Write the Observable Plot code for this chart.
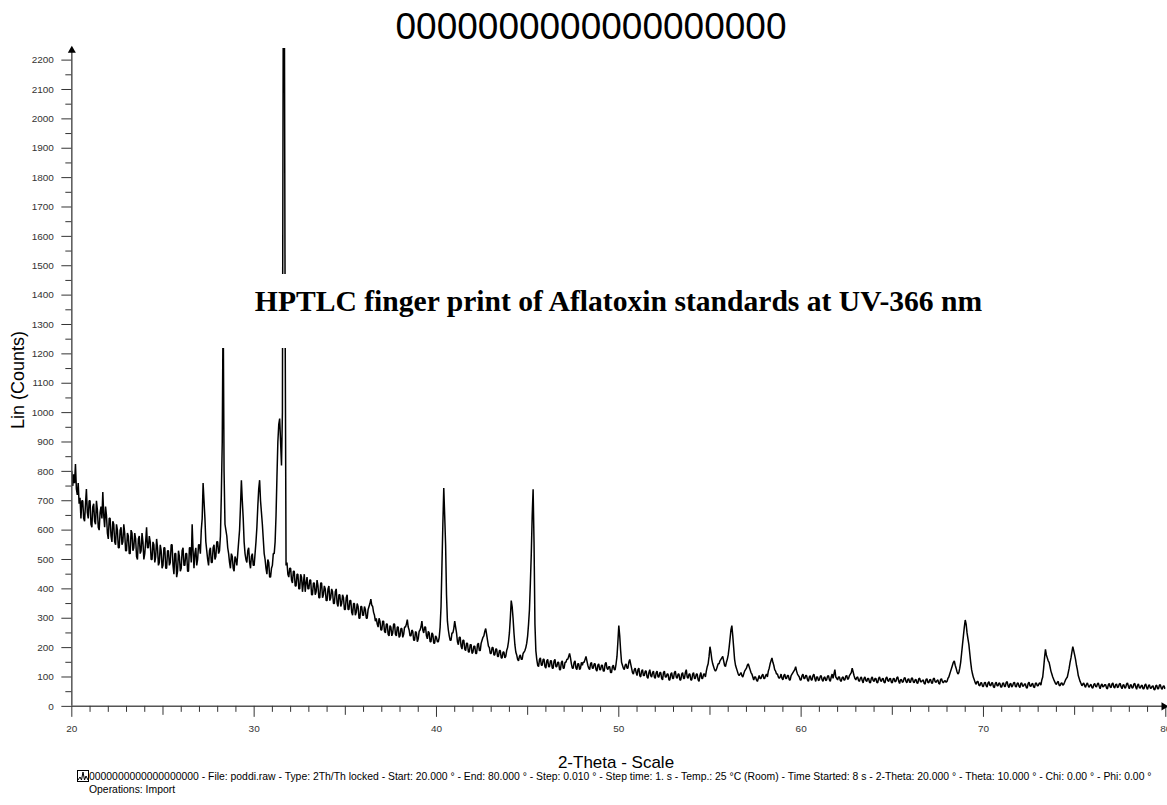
<!DOCTYPE html>
<html>
<head>
<meta charset="utf-8">
<script src="https://cdn.jsdelivr.net/npm/d3@7"></script>
<script src="https://cdn.jsdelivr.net/npm/@observablehq/plot@0.6"></script>
<style>
  html, body { margin: 0; padding: 0; background: #fff; overflow: hidden; }
  #wrap { position: relative; width: 1167px; height: 805px; overflow: hidden;
          font-family: Arial, "Liberation Sans", sans-serif; color: #000; }
  #chart { position: absolute; left: 0; top: 0; }
  .title { position: absolute; left: 0; width: 1182px; top: 6px; text-align: center;
           font-size: 37px; line-height: 42px; }
  .ylab { position: absolute; left: 18px; top: 380px; font-size: 18px; white-space: nowrap;
          transform: translate(-50%, -50%) rotate(-90deg); }
  .xlab { position: absolute; left: 616px; top: 752px; font-size: 17px; white-space: nowrap;
          transform: translateX(-50%); line-height: 22px; }
  .note { position: absolute; left: 205px; top: 274px; width: 827px; height: 74px; background: #fff; }
  .note span { position: absolute; left: 0; right: 0; top: 13px; text-align: center;
               font-family: "Liberation Serif", "Times New Roman", serif; font-weight: bold;
               font-size: 29.6px; line-height: 29px; white-space: nowrap; }
  .caption { position: absolute; left: 77px; top: 770px; font-size: 10.4px; line-height: 13px; white-space: nowrap; }
  .caption svg { position: absolute; left: 0; top: 0; }
  .caption div { padding-left: 12px; }
</style>
</head>
<body>
<div id="wrap">
  <div id="chart"></div>
  <div class="title">0000000000000000000</div>
  <div class="ylab">Lin (Counts)</div>
  <div class="xlab">2-Theta - Scale</div>
  <div class="note"><span>HPTLC finger print of Aflatoxin standards at UV-366 nm</span></div>
  <div class="caption">
    <svg width="12" height="12" viewBox="0 0 12 12">
      <rect x="0.5" y="0.5" width="11" height="11" fill="none" stroke="#000" stroke-width="1"/>
      <polyline points="1,10 3,7 4.5,10 6,2 7.5,10 9,6 11,10" fill="none" stroke="#000" stroke-width="1"/>
    </svg>
    <div>0000000000000000000 - File: poddi.raw - Type: 2Th/Th locked - Start: 20.000 ° - End: 80.000 ° - Step: 0.010 ° - Step time: 1. s - Temp.: 25 °C (Room) - Time Started: 8 s - 2-Theta: 20.000 ° - Theta: 10.000 ° - Chi: 0.00 ° - Phi: 0.00 °</div>
    <div>Operations: Import</div>
  </div>
</div>
<script>
// Diffraction scan: counts sampled every 0.05° of 2-theta, one row per degree.
const startAngle = 20;
const stepAngle = 0.05;
const counts = [
  800, 750, 790, 760, 825, 740, 720, 760, 690, 710, 640, 700, 700, 640, 630, 690, 740, 660, 640, 700, // 20
  700, 620, 610, 680, 690, 630, 620, 700, 670, 610, 600, 660, 680, 640, 730, 650, 610, 680, 650, 590, // 21
  570, 640, 640, 580, 560, 630, 620, 560, 550, 620, 600, 540, 540, 600, 610, 550, 560, 620, 590, 530, // 22
  530, 590, 580, 520, 520, 600, 590, 530, 540, 590, 570, 510, 500, 570, 580, 520, 530, 590, 560, 500, // 23
  520, 560, 610, 540, 540, 580, 560, 500, 500, 560, 550, 490, 510, 570, 540, 480, 490, 550, 530, 470, // 24
  480, 540, 540, 470, 470, 530, 530, 480, 490, 550, 550, 480, 450, 520, 520, 440, 460, 530, 510, 460, // 25
  470, 530, 540, 480, 480, 520, 520, 460, 460, 540, 540, 490, 620, 530, 470, 520, 540, 480, 500, 550, // 26
  550, 520, 600, 640, 760, 700, 640, 560, 530, 500, 480, 530, 540, 490, 490, 540, 550, 500, 510, 560, // 27
  560, 520, 530, 580, 720, 900, 1380, 800, 620, 600, 580, 540, 520, 490, 470, 520, 510, 470, 460, 510, // 28
  500, 480, 520, 560, 600, 680, 770, 700, 640, 560, 520, 500, 490, 530, 540, 490, 470, 510, 520, 480, // 29
  480, 520, 560, 610, 680, 740, 770, 700, 660, 620, 570, 520, 500, 470, 450, 500, 490, 440, 440, 470, // 30
  480, 520, 520, 560, 650, 780, 900, 960, 980, 900, 820, 1000, 2500, 2600, 1300, 480, 490, 450, 440, 470, // 31
  470, 430, 420, 460, 460, 410, 410, 450, 450, 400, 400, 450, 440, 390, 420, 450, 390, 420, 440, 400, // 32
  400, 430, 430, 380, 380, 420, 420, 380, 390, 430, 410, 370, 370, 420, 420, 370, 380, 410, 400, 360, // 33
  360, 400, 410, 360, 370, 400, 390, 350, 350, 390, 400, 350, 340, 380, 380, 340, 350, 380, 370, 330, // 34
  330, 370, 380, 330, 330, 360, 360, 320, 310, 350, 350, 310, 320, 350, 340, 300, 300, 340, 340, 310, // 35
  310, 340, 330, 300, 300, 330, 340, 350, 365, 345, 340, 320, 310, 290, 300, 280, 270, 300, 290, 260, // 36
  260, 290, 290, 255, 250, 280, 280, 245, 240, 275, 270, 240, 250, 280, 280, 245, 240, 270, 270, 235, // 37
  240, 265, 265, 235, 245, 270, 270, 280, 295, 270, 260, 240, 240, 260, 255, 225, 225, 255, 250, 220, // 38
  230, 255, 260, 270, 290, 260, 250, 270, 270, 240, 230, 255, 250, 220, 220, 250, 245, 215, 215, 240, // 39
  235, 220, 220, 235, 270, 340, 480, 620, 743, 650, 550, 380, 290, 260, 240, 225, 225, 250, 250, 265, // 40
  290, 270, 250, 220, 210, 235, 235, 205, 195, 225, 225, 195, 190, 215, 215, 185, 185, 210, 210, 180, // 41
  185, 205, 205, 180, 180, 210, 215, 190, 190, 215, 225, 235, 240, 255, 265, 245, 225, 205, 200, 180, // 42
  180, 200, 200, 175, 175, 195, 195, 170, 170, 190, 190, 165, 165, 185, 185, 165, 170, 190, 200, 220, // 43
  250, 300, 360, 340, 300, 250, 210, 185, 175, 160, 155, 170, 175, 160, 160, 180, 185, 190, 200, 215, // 44
  240, 280, 330, 420, 520, 650, 739, 560, 280, 190, 160, 140, 135, 160, 165, 140, 140, 160, 160, 135, // 45
  130, 155, 160, 135, 135, 155, 155, 130, 130, 155, 160, 135, 135, 150, 150, 125, 125, 150, 155, 130, // 46
  130, 150, 150, 160, 160, 170, 180, 165, 145, 130, 130, 150, 155, 130, 125, 145, 145, 125, 130, 150, // 47
  140, 150, 150, 160, 170, 155, 140, 130, 125, 145, 150, 130, 130, 145, 145, 125, 120, 140, 145, 125, // 48
  125, 140, 140, 120, 120, 145, 150, 130, 125, 135, 135, 115, 115, 135, 140, 125, 125, 145, 170, 220, // 49
  275, 240, 190, 150, 140, 130, 125, 140, 145, 130, 130, 150, 160, 145, 130, 115, 110, 125, 130, 115, // 50
  105, 125, 130, 105, 100, 120, 125, 105, 105, 120, 120, 100, 95, 115, 125, 105, 100, 115, 120, 100,  // 51
  95, 115, 120, 100, 100, 115, 115, 95, 90, 115, 120, 100, 100, 110, 110, 90, 90, 110, 115, 95,       // 52
  95, 115, 120, 100, 95, 110, 110, 90, 90, 110, 115, 95, 95, 115, 125, 100, 95, 110, 110, 90,         // 53
  90, 110, 115, 95, 95, 110, 110, 90, 85, 105, 115, 95, 95, 110, 110, 100, 120, 135, 145, 170,        // 54
  203, 185, 160, 145, 135, 125, 120, 125, 135, 145, 145, 155, 160, 165, 170, 155, 140, 135, 150, 160, // 55
  175, 200, 230, 260, 275, 240, 200, 160, 140, 130, 120, 110, 105, 110, 115, 105, 100, 110, 120, 125, // 56
  130, 140, 145, 135, 125, 115, 110, 100, 90, 100, 100, 90, 85, 95, 105, 95, 95, 105, 110, 95,        // 57
  95, 105, 110, 100, 120, 130, 145, 155, 165, 150, 140, 125, 120, 110, 110, 100, 95, 100, 110, 95,    // 58
  90, 105, 110, 95, 95, 105, 105, 90, 90, 105, 110, 115, 120, 125, 135, 120, 110, 105, 100, 90,       // 59
  90, 105, 110, 95, 95, 105, 105, 90, 85, 100, 105, 90, 90, 105, 110, 95, 85, 100, 100, 88,           // 60
  90, 102, 105, 90, 85, 98, 100, 88, 90, 103, 105, 90, 85, 100, 110, 95, 110, 125, 100, 95,           // 61
  90, 100, 100, 88, 85, 98, 100, 90, 90, 103, 105, 92, 95, 105, 110, 115, 130, 118, 105, 95,          // 62
  90, 98, 100, 88, 85, 96, 100, 88, 80, 95, 100, 88, 85, 95, 95, 82, 80, 95, 100, 88,                 // 63
  85, 95, 95, 82, 80, 95, 100, 88, 85, 94, 95, 82, 80, 96, 100, 88, 85, 94, 95, 82,                   // 64
  80, 94, 95, 84, 85, 98, 100, 86, 78, 90, 92, 82, 84, 96, 98, 85, 80, 92, 94, 82,                    // 65
  82, 95, 97, 84, 80, 90, 92, 80, 78, 94, 96, 84, 84, 88, 90, 78, 76, 92, 94, 82,                     // 66
  80, 90, 92, 80, 78, 94, 96, 84, 82, 88, 90, 78, 76, 92, 94, 84, 80, 86, 88, 82,                     // 67
  85, 95, 100, 110, 120, 130, 140, 150, 155, 140, 130, 118, 110, 115, 130, 150, 180, 210, 240, 270,   // 68
  294, 280, 250, 230, 210, 180, 150, 125, 110, 98, 90, 80, 75, 85, 85, 72, 70, 80, 80, 68,            // 69
  68, 80, 82, 70, 66, 80, 84, 72, 70, 80, 80, 66, 64, 78, 82, 70, 70, 80, 78, 66,                     // 70
  66, 78, 80, 68, 68, 82, 84, 70, 64, 76, 78, 66, 70, 80, 82, 68, 66, 78, 80, 68,                     // 71
  64, 78, 80, 68, 70, 76, 76, 64, 62, 78, 82, 70, 68, 76, 78, 66, 64, 78, 80, 70,                     // 72
  70, 78, 80, 72, 90, 100, 130, 165, 194, 175, 165, 155, 150, 135, 120, 110, 100, 92, 85, 78,         // 73
  75, 82, 85, 72, 70, 78, 80, 72, 75, 82, 90, 95, 100, 115, 130, 150, 165, 185, 203, 190,             // 74
  175, 160, 140, 125, 105, 95, 85, 78, 70, 76, 80, 70, 65, 75, 80, 70, 65, 72, 75, 64,                // 75
  62, 74, 78, 68, 66, 76, 80, 68, 60, 72, 76, 66, 68, 74, 74, 62, 60, 74, 78, 66,                     // 76
  64, 76, 80, 66, 62, 74, 76, 64, 66, 76, 78, 66, 60, 72, 74, 62, 64, 76, 80, 68,                     // 77
  60, 72, 74, 62, 64, 76, 78, 66, 58, 72, 76, 64, 62, 70, 72, 60, 60, 72, 76, 64,                     // 78
  58, 70, 74, 62, 62, 68, 70, 58, 56, 70, 72, 60, 60, 72, 74, 62, 58, 68, 70, 60,                     // 79
  64                                                                                                  // 80
];

const xDomain = [20, 80];
const yDomain = [0, 2240];
const xMajor = [20, 30, 40, 50, 60, 70, 80];
const xMid = [25, 35, 45, 55, 65, 75];
const xMinor = d3.range(21, 80).filter(v => v % 5 !== 0);
const yMajor = d3.range(0, 2201, 100);
const yMinor = d3.range(50, 2200, 100);

const scan = counts.map((c, i) => ({theta: startAngle + i * stepAngle, counts: c}));

const axisColor = "#555";

const chart = Plot.plot({
  width: 1170,
  height: 805,
  marginLeft: 71.5,
  marginRight: 1.7,
  marginTop: 48,
  marginBottom: 97.3,
  style: {background: "transparent", fontFamily: "Arial, 'Liberation Sans', sans-serif", overflow: "visible"},
  x: {domain: xDomain},
  y: {domain: yDomain},
  marks: [
    Plot.line(scan, {x: "theta", y: "counts", stroke: "#000", strokeWidth: 1.5, strokeLinejoin: "miter", clip: true}),
    Plot.ruleX([xDomain[0]], {stroke: axisColor, strokeWidth: 1.5}),
    Plot.ruleY([yDomain[0]], {stroke: axisColor, strokeWidth: 1.5}),
    Plot.axisY(yMajor, {tickSize: 10, tickPadding: 8, fontSize: 10, tickFormat: "d", color: "#333", label: null}),
    Plot.axisY(yMinor, {tickSize: 6, tickFormat: () => "", color: "#333", label: null}),
    Plot.axisX(xMajor, {tickSize: 11, tickPadding: 8, fontSize: 10, tickFormat: "d", color: "#333", label: null}),
    Plot.axisX(xMid, {tickSize: 9, tickFormat: () => "", color: "#333", label: null}),
    Plot.axisX(xMinor, {tickSize: 6, tickFormat: () => "", color: "#333", label: null}),
    // arrow heads at the far ends of both axes
    Plot.dot([{x: xDomain[0], y: yDomain[1]}], {x: "x", y: "y", symbol: "triangle", r: 3, fill: "#000", dy: 2}),
    Plot.dot([{x: xDomain[1], y: yDomain[0]}], {x: "x", y: "y", symbol: "triangle", r: 3, fill: "#000", rotate: 90, dx: -2})
  ]
});
document.getElementById("chart").appendChild(chart);
</script>
</body>
</html>
